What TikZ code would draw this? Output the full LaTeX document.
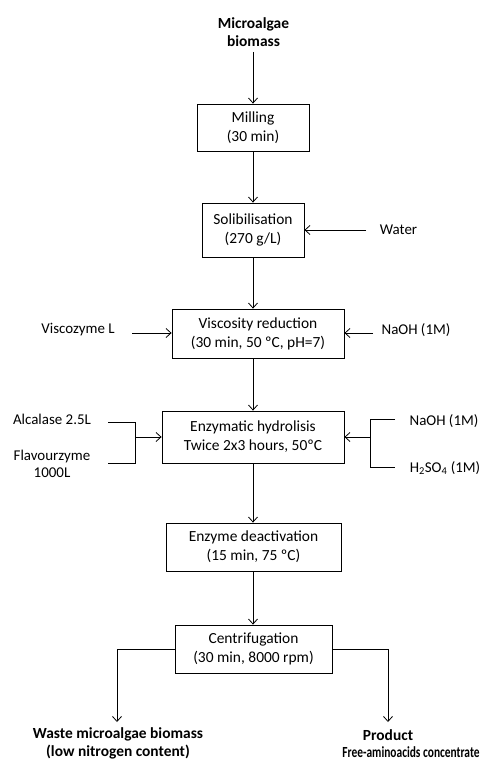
\documentclass[tikz,border=0pt]{standalone}
\usepackage{fontspec}
\usepackage{graphicx}
\setmainfont{Carlito}
\usetikzlibrary{arrows.meta}
\tikzset{
  stepbox/.style={draw, line width=0.8bp, inner sep=0pt, align=center, font=\fontsize{15.5}{19}\selectfont},
  lbl/.style={inner sep=0pt, align=center, font=\fontsize{15}{17}\selectfont},
  blbl/.style={inner sep=0pt, align=center, font=\fontsize{15.5}{18}\selectfont\bfseries},
  flow/.style={line width=0.8bp, -{Straight Barb[length=5bp,width=9bp]}},
  ln/.style={line width=0.8bp}
}
\begin{document}
\begin{tikzpicture}[x=1bp,y=-1bp]
\useasboundingbox (0,0) rectangle (484,761);
% title
\node[blbl] (src) at (253.5,32.5) {Microalgae\\biomass};
% boxes
\node[stepbox, minimum width=112bp, minimum height=47bp] (mill) at (253,127.5) {Milling\\(30 min)};
\node[stepbox, minimum width=102bp, minimum height=54bp] (sol) at (253,230) {Solibilisation\\(270 g/L)};
\node[stepbox, minimum width=172bp, minimum height=49bp] (visc) at (258,333.5) {Viscosity reduction\\(30 min, 50 ºC, pH=7)};
\node[stepbox, minimum width=182bp, minimum height=52bp] (enz) at (253,437) {Enzymatic hydrolisis\\Twice 2x3 hours, 50ºC};
\node[stepbox, minimum width=175bp, minimum height=48bp] (deact) at (253.5,547) {Enzyme deactivation\\(15 min, 75 ºC)};
\node[stepbox, minimum width=157bp, minimum height=48bp] (cent) at (253.5,649) {Centrifugation\\(30 min, 8000 rpm)};
% side inputs
\node[lbl] (water) at (398.5,230) {Water};
\node[lbl] (viscz) at (78,330) {Viscozyme L};
\node[lbl] (naoh1) at (416,330) {NaOH (1M)};
\node[lbl] (alc) at (52,419) {Alcalase 2.5L};
\node[lbl] (flav) at (52,464) {Flavourzyme\\1000L};
\node[lbl] (naoh2) at (444,421) {NaOH (1M)};
\node[lbl] (h2so4) at (445,468) {H\textsubscript{2}SO\textsubscript{4} (1M)};
% outputs
\node[blbl] (waste) at (118,743.5) {Waste microalgae biomass\\(low nitrogen content)};
\node[blbl] (prod) at (388,735) {Product};
\node[blbl] (faa) at (411,752) {\scalebox{0.74}[1]{Free-aminoacids concentrate}};
% coordinates
\coordinate (srcend) at (253,52);
\coordinate (waterend) at (366,230);
\coordinate (vzend) at (132,333);
\coordinate (naoh1end) at (373,333);
\coordinate (la) at (108,422);
\coordinate (lb) at (108,463);
\coordinate (lv1) at (135,422);
\coordinate (lv2) at (135,463);
\coordinate (lm) at (135,437);
\coordinate (ra) at (395,419);
\coordinate (rb) at (395,467);
\coordinate (rv1) at (370,419);
\coordinate (rv2) at (370,467);
\coordinate (rm) at (370,437);
\coordinate (wl) at (117,722);
\coordinate (pr) at (388,722);
% main flow
\draw[flow] (srcend) -- (mill.north);
\draw[flow] (mill.south) -- (sol.north);
\draw[flow] (sol.south) -- (sol.south |- visc.north);
\draw[flow] (sol.south |- visc.south) -- (enz.north);
\draw[flow] (enz.south) -- (enz.south |- deact.north);
\draw[flow] (enz.south |- deact.south) -- (enz.south |- cent.north);
% inputs
\draw[flow] (waterend) -- (sol.east);
\draw[flow] (vzend) -- (vzend -| visc.west);
\draw[flow] (naoh1end) -- (naoh1end -| visc.east);
\draw[ln] (la) -- (lv1) -- (lv2) -- (lb);
\draw[flow] (lm) -- (enz.west);
\draw[ln] (ra) -- (rv1) -- (rv2) -- (rb);
\draw[flow] (rm) -- (enz.east);
% outputs
\draw[flow] (cent.west) -| (wl);
\draw[flow] (cent.east) -| (pr);
\end{tikzpicture}
\end{document}
